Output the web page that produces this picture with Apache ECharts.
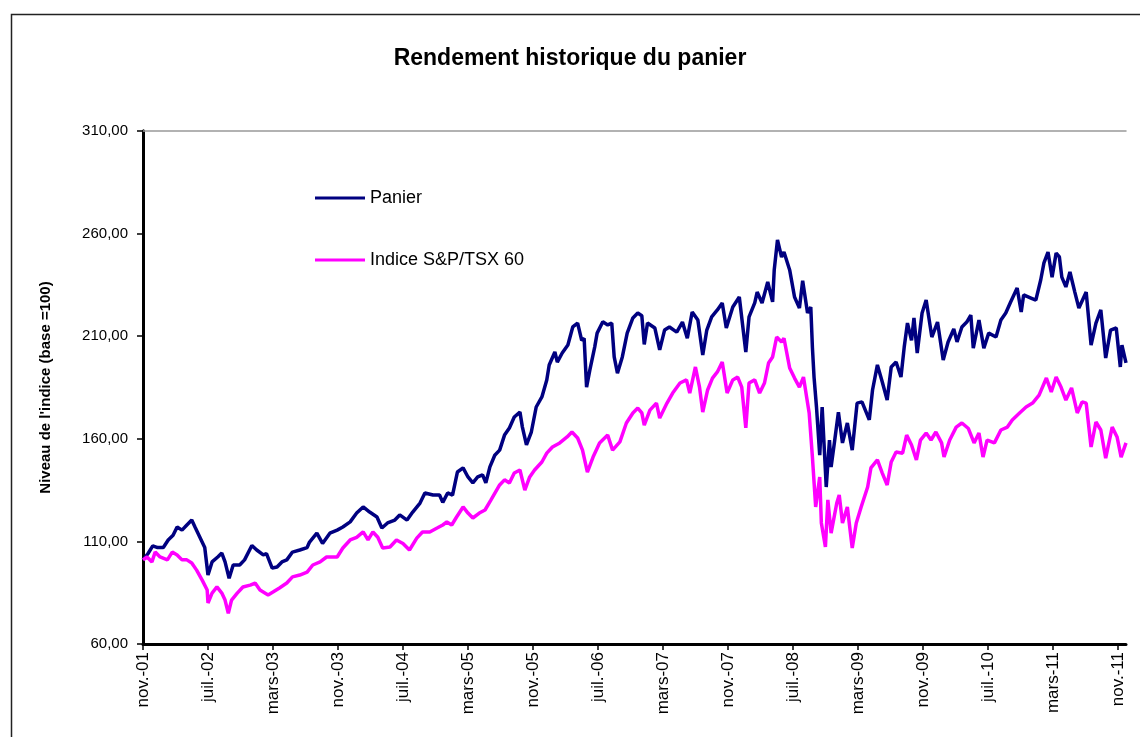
<!DOCTYPE html>
<html>
<head>
<meta charset="utf-8">
<script src="https://cdn.jsdelivr.net/npm/echarts@6/dist/echarts.min.js"></script>
<style>
html,body{margin:0;padding:0;background:#fff;}
#chart{width:1140px;height:737px;}
</style>
</head>
<body>
<div id="chart"></div>
<script>
// Month offsets from nov.-01 (x) and index levels (base = 100)
var tickLabels = ['nov.-01','juil.-02','mars-03','nov.-03','juil.-04','mars-05','nov.-05','juil.-06','mars-07','nov.-07','juil.-08','mars-09','nov.-09','juil.-10','mars-11','nov.-11'];

var panierMonths = [0.0,0.6,1.2,1.8,2.5,3.1,3.7,4.2,4.8,5.4,6.0,6.4,7.0,7.6,8.0,8.5,9.2,9.7,10.1,10.6,11.1,11.9,12.5,13.4,14.0,14.8,15.2,15.9,16.5,17.1,17.7,18.4,19.3,20.2,20.5,21.4,22.1,23.0,23.9,24.6,25.5,26.3,27.1,27.9,28.8,29.4,30.1,31.0,31.6,32.5,33.2,34.1,34.7,35.7,36.5,36.9,37.5,38.1,38.7,39.4,40.0,40.6,41.2,41.8,42.2,42.7,43.3,43.9,44.5,45.1,45.7,46.4,46.7,47.2,47.8,48.4,49.1,49.7,50.0,50.7,51.0,51.6,52.3,52.9,53.5,54.0,54.3,54.6,55.0,55.6,55.9,56.6,57.2,57.7,58.0,58.4,59.0,59.6,60.3,60.9,61.4,61.7,62.1,63.0,63.6,64.2,64.8,65.7,66.4,67.0,67.6,68.3,68.9,69.4,70.0,70.7,71.3,71.8,72.6,73.4,74.2,74.6,75.3,75.6,76.2,76.9,77.5,77.7,78.1,78.6,78.9,79.6,80.2,80.8,81.2,81.8,82.2,82.4,82.6,82.9,83.3,83.6,84.1,84.5,84.7,85.1,85.6,86.1,86.7,87.3,87.9,88.5,89.4,89.8,90.4,91.0,91.6,92.1,92.7,93.3,93.7,94.1,94.6,94.9,95.3,95.9,96.4,97.1,97.8,98.5,99.1,99.8,100.2,100.8,101.4,101.9,102.2,102.9,103.5,104.1,105.0,105.6,106.2,106.8,107.6,108.1,108.4,109.3,109.9,110.5,110.9,111.4,111.9,112.4,112.8,113.1,113.6,114.1,114.7,115.2,116.1,116.7,117.3,117.9,118.5,119.1,119.8,120.3,120.5,121.0];
var panierValues = [101,104,107.8,107,107,110.7,113,117,115.5,118,120.4,117,112,107,93.6,100,102.4,104.3,100,92,98.5,98.5,101,108,105.8,103.4,104,97,97.5,100,101,104.8,105.8,107,109.7,114,109,114,115.5,117,119.5,123.8,126.8,124.3,121.9,116.5,119,120.4,122.9,120.4,124.3,128.7,133.6,132.6,132.6,129,133.6,132.6,143.8,145.8,141.4,138.5,141.4,142.4,138.5,146.3,152,154.5,161.8,165.3,170.6,173,165.7,157,163.3,175.5,180.4,188.7,196,202.3,197.4,201.8,205.7,214.5,216.4,208,209,185.2,193.5,204.7,211.5,217,215.5,216.4,199.9,192,199.9,211.5,218.9,221.3,220,206,216.4,214,203.3,213,214.5,212,216.9,209,221.8,217.9,200.8,213,219.4,222.8,226.2,214,224.2,229.1,202.3,219.4,226.2,231.5,226.2,236.4,226.7,242.3,256.9,248.6,251,242.3,229.1,223.7,237,221.3,224.2,204.5,190.1,175.5,152,175.5,136.5,159.4,146.3,158,173,158,167.7,154.5,177.4,178,169.2,183.8,196,187.7,178.9,195,197.4,190.1,204.7,216.4,208,218.9,201.8,221.3,227.6,209.6,216.9,198.4,207.2,213.5,207.2,214.5,216.9,220.3,204.2,217.9,204.2,211.5,209.6,217.9,221.3,226.7,233.5,221.8,230.1,228.6,227.6,237.4,245.7,251,238.8,250.5,248.6,238.8,234,241.3,231.5,223.7,231.5,205.7,216.4,222.8,199.4,213,214,195,205.7,197];

var indiceMonths = [0.0,0.5,1.1,1.5,2.1,3.0,3.6,4.2,4.8,5.4,6.0,6.6,7.3,7.9,8.0,8.5,9.1,9.7,10.1,10.5,10.9,11.6,12.3,13.2,13.8,14.4,15.4,16.0,16.8,17.7,18.4,19.3,20.2,20.9,21.8,22.6,23.9,24.6,25.5,26.3,27.1,27.7,28.3,28.9,29.5,30.4,31.2,32.0,32.8,33.7,34.4,35.3,36.2,36.9,37.4,38.0,38.6,39.4,40.0,40.6,41.4,42.1,42.8,43.9,44.5,45.1,45.7,46.4,47.0,47.6,48.2,49.1,49.7,50.4,51.3,52.2,52.8,53.5,54.1,54.7,55.4,56.2,57.2,57.8,58.7,59.5,60.3,60.9,61.4,61.7,62.4,63.2,63.6,64.5,65.2,66.1,66.9,67.3,68.0,68.5,68.9,69.5,70.1,70.7,71.3,71.9,72.6,73.2,73.7,74.2,74.6,75.3,75.9,76.5,77.0,77.5,78.0,78.6,78.9,79.6,80.2,80.8,81.3,81.7,82.0,82.4,82.8,83.3,83.5,84.0,84.3,84.7,85.4,85.7,86.1,86.7,87.3,87.8,88.4,89.2,89.6,90.4,91.0,91.6,92.1,92.7,93.5,94.0,94.6,95.2,95.7,96.4,97.0,97.6,98.3,98.6,99.3,100.1,100.8,101.6,102.3,102.9,103.4,103.9,104.8,105.6,106.4,107.0,107.9,108.7,109.5,110.3,111.2,111.8,112.4,113.0,113.6,114.3,115.0,115.6,116.1,116.7,117.3,117.9,118.5,119.3,119.9,120.4,121.0];
var indiceValues = [101,102.4,100,104.8,102.4,101,104.8,103.4,101,101,99.5,96,91,86.3,80,84.8,87.8,84.8,81.4,75,81.4,84.8,87.8,88.7,89.7,86.3,83.9,85.3,87.3,89.7,92.7,93.6,95,98.5,100,102.4,102.4,106.8,110.7,112,114.6,110.7,114.6,112,106.8,107.3,110.7,109,105.8,111.6,114.6,114.6,116.5,118,119.5,118,121.9,126.8,123.8,121.4,123.8,125.3,130,137.5,140,138.5,143.3,144.8,135,141.4,144.8,148.7,153,156,158,160.9,163.3,160.4,154.5,143.8,151.1,158,161.8,154.5,158.5,167.7,172.6,175,172.6,166.7,174,177.4,170.1,177.4,182.3,187.2,188.7,182.3,195,185.2,173,183.8,189.6,192.6,197.4,182.3,188.7,190.1,185.2,165.3,187.2,188.7,182.3,187.2,196.9,199.9,209.6,207.2,209,194.5,189.6,185.2,190.1,180,172.6,151.1,126.8,141.4,119,107.3,130.2,114,128.7,132.6,119,126.8,106.8,119,126.8,136.5,145.8,149.7,143.3,137.5,148.7,153.6,153,161.8,157,149.7,159.4,162.8,159.4,163.3,158,151.1,159.4,165.7,167.7,165,158,162.8,151.1,159.4,158,164.3,165.7,169.2,172.6,175.5,177.4,181.3,189.6,182.8,190.1,185.2,178.9,184.8,172.6,178,177.4,156,168.2,164.3,150.6,165.7,160.9,151.1,158];

function pairs(xs, ys){ return xs.map(function(x,i){ return [x, ys[i]]; }); }

var chart = echarts.init(document.getElementById('chart'), null, {renderer:'canvas'});
var FONT = 'Liberation Sans, Arial, sans-serif';
chart.setOption({
  backgroundColor:'#ffffff',
  animation:false,
  title:{
    text:'Rendement historique du panier',
    left:'center', top:42,
    textStyle:{fontFamily:FONT, fontSize:23, fontWeight:'bold', color:'#000'}
  },
  legend:{
    orient:'vertical', left:310, top:184,
    itemWidth:50, itemHeight:3, itemGap:44,
    icon:'rect',
    textStyle:{fontFamily:FONT, fontSize:18, color:'#000'},
    data:['Panier','Indice S&P/TSX 60']
  },
  grid:{left:143, top:131, right:14, bottom:93, containLabel:false},
  xAxis:[{
    type:'value', min:0, max:121, interval:8,
    axisLine:{show:true, lineStyle:{color:'#000', width:3}},
    axisTick:{show:true, length:6, lineStyle:{color:'#000', width:1.5}},
    splitLine:{show:false},
    axisLabel:{
      rotate:90, margin:8, showMaxLabel:false,
      fontFamily:FONT, fontSize:17, color:'#000',
      formatter:function(v){ return (v % 8 === 0) ? (tickLabels[v/8] || '') : ''; }
    }
  },{
    type:'value', position:'top', min:0, max:121,
    axisLine:{show:true, onZero:false, lineStyle:{color:'#999', width:1.5}},
    axisTick:{show:false}, axisLabel:{show:false}, splitLine:{show:false}
  }],
  yAxis:[{
    type:'value', min:60, max:310, interval:50,
    name:"Niveau de l'indice (base =100)",
    nameLocation:'middle', nameRotate:90, nameGap:90,
    nameTextStyle:{fontFamily:FONT, fontSize:15, fontWeight:'bold', color:'#000'},
    axisLine:{show:true, lineStyle:{color:'#000', width:3}},
    axisTick:{show:true, length:6, lineStyle:{color:'#000', width:1.5}},
    splitLine:{show:false},
    axisLabel:{
      margin:15, fontFamily:FONT, fontSize:15, color:'#000',
      formatter:function(v){ return v.toFixed(2).replace('.', ','); }
    }
  },{
    type:'value', position:'right', min:60, max:310,
    axisLine:{show:true, lineStyle:{color:'#000', width:3}},
    axisTick:{show:false}, axisLabel:{show:false}, splitLine:{show:false}
  }],
  graphic:[{
    type:'rect', left:9, top:12, silent:true,
    shape:{width:1150, height:740},
    style:{fill:'none', stroke:'#222', lineWidth:1.5}
  }],
  series:[{
    name:'Panier', type:'line', symbol:'none',
    data:pairs(panierMonths, panierValues),
    lineStyle:{color:'#000080', width:3.5},
    itemStyle:{color:'#000080'}
  },{
    name:'Indice S&P/TSX 60', type:'line', symbol:'none',
    data:pairs(indiceMonths, indiceValues),
    lineStyle:{color:'#FF00FF', width:3.5},
    itemStyle:{color:'#FF00FF'}
  }]
});
</script>
</body>
</html>
